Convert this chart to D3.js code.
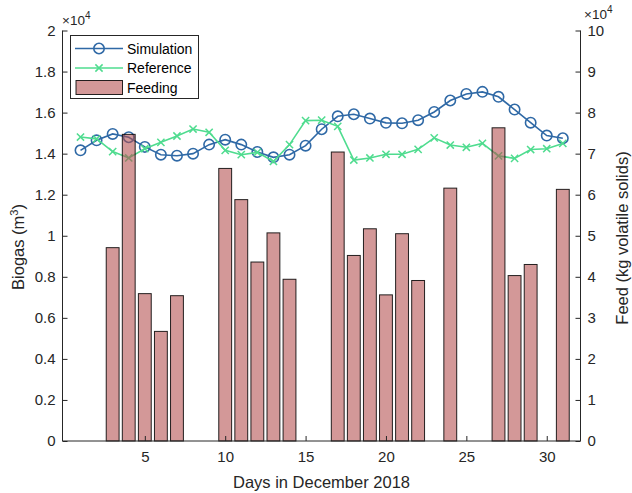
<!DOCTYPE html>
<html><head><meta charset="utf-8">
<script src="https://cdn.jsdelivr.net/npm/d3@7/dist/d3.min.js"></script>
<style>
html,body{margin:0;padding:0;background:#fff;}
svg{display:block;font-family:"Liberation Sans",Arial,Helvetica,sans-serif;}
</style></head>
<body>
<svg id="chart" width="632" height="493"></svg>
<script>
// ---- data ----
const days = d3.range(1, 32);
const simulation = [14160,14650,14960,14800,14330,13950,13900,14000,14440,14680,14440,14080,13820,13950,14390,15190,
  15820,15920,15710,15500,15480,15630,16030,16590,16910,17010,16770,16150,15510,14880,14750];
const reference = [14810,14720,14100,13790,14240,14550,14860,15200,15040,14160,13950,14060,13620,14440,15610,15630,
  15330,13690,13790,13970,13970,14210,14770,14420,14310,14500,13890,13770,14200,14240,14500];
const feedDays = [3,4,5,6,7,10,11,12,13,14,17,18,19,20,21,22,24,27,28,29,31];
const feeding = [47100,74700,35900,26700,35400,66400,58800,43600,50700,39400,70400,45200,51700,35600,50500,39100,61600,76300,40300,43000,61300];
const xTicks = [5,10,15,20,25,30];
const leftTicks = [0,2000,4000,6000,8000,10000,12000,14000,16000,18000,20000];
const rightTicks = [0,10000,20000,30000,40000,50000,60000,70000,80000,90000,100000];
const seriesNames = ["Simulation","Reference","Feeding"];

// ---- layout ----
const svg = d3.select("#chart");
const L = 62.5, R = 580.5, T = 30.5, B = 441;
const x = d3.scaleLinear().domain([-0.12, 32.1]).range([L, R]);
const yL = d3.scaleLinear().domain([0, 20000]).range([B, T]);
const yR = d3.scaleLinear().domain([0, 100000]).range([B, T]);
const axisCol = "#262626";
const blue = "#2f69a6", green = "#4fdc8f";
const tickFont = 15;

// ---- lines (drawn first, bars translucent on top) ----
const gLines = svg.append("g");
function drawSeries(vals, col, marker){
  const line = d3.line().x((d,i)=>x(days[i])).y(d=>yL(d));
  gLines.append("path").attr("d", line(vals)).attr("fill","none").attr("stroke",col).attr("stroke-width",1.6);
  const m = gLines.append("g");
  vals.forEach((v,i)=>{
    const cx = x(days[i]), cy = yL(v);
    if(marker==="o"){
      m.append("circle").attr("cx",cx).attr("cy",cy).attr("r",5.2).attr("fill","none").attr("stroke",col).attr("stroke-width",1.6);
    } else {
      const s = 3.6;
      m.append("path").attr("d",`M${cx-s},${cy-s}L${cx+s},${cy+s}M${cx-s},${cy+s}L${cx+s},${cy-s}`)
        .attr("stroke",col).attr("stroke-width",1.5);
    }
  });
}
drawSeries(simulation, blue, "o");
drawSeries(reference, green, "x");

// ---- bars ----
const bw = x(0.8) - x(0);
svg.append("g").selectAll("rect").data(feeding).join("rect")
  .attr("x",(d,i)=>x(feedDays[i]) - bw/2)
  .attr("y",d=>yR(d))
  .attr("width",bw)
  .attr("height",d=>B - yR(d))
  .attr("fill","rgb(180,78,78)").attr("fill-opacity",0.58)
  .attr("stroke","#000").attr("stroke-opacity",0.85).attr("stroke-width",1);

// ---- axes ----
const gx = svg.append("g").attr("transform",`translate(0,${B})`)
  .call(d3.axisBottom(x).tickValues(xTicks).tickSize(-5).tickPadding(10).tickFormat(d3.format("d")));
const gl = svg.append("g").attr("transform",`translate(${L},0)`)
  .call(d3.axisLeft(yL).tickValues(leftTicks).tickSize(-5).tickPadding(7).tickFormat(v=>String(+(v/1e4).toFixed(1))));
const gr = svg.append("g").attr("transform",`translate(${R},0)`)
  .call(d3.axisRight(yR).tickValues(rightTicks).tickSize(-5).tickPadding(7).tickFormat(v=>String(Math.round(v/1e4))));
[gx,gl,gr].forEach(g=>{
  g.select(".domain").attr("stroke",axisCol).attr("stroke-width",1);
  g.selectAll(".tick line").attr("stroke",axisCol);
  g.selectAll(".tick text").attr("fill",axisCol).style("font-size",tickFont+"px").style("font-family","'Liberation Sans',Arial,sans-serif");
});
gx.select(".domain").attr("d",`M${L},0H${R}`);
gl.select(".domain").attr("d",`M0,${B}V${T}`);
gr.select(".domain").attr("d",`M0,${B}V${T}`);

// ---- exponent labels ----
function expLabel(xp, yp){
  const t = svg.append("text").attr("x",xp).attr("y",yp).attr("fill",axisCol).style("font-size","13.5px");
  t.append("tspan").text("\u00d710");
  t.append("tspan").attr("dy",-6).style("font-size","10px").text("4");
}
expLabel(62, 25);
expLabel(584, 18.5);

// ---- axis titles ----
svg.append("text").attr("x",(L+R)/2).attr("y",488).attr("text-anchor","middle")
  .attr("fill",axisCol).style("font-size","16.5px").text("Days in December 2018");
const yl = svg.append("text").attr("transform","translate(24,247) rotate(-90)").attr("text-anchor","middle")
  .attr("fill",axisCol).style("font-size","16.5px");
yl.append("tspan").text("Biogas (m");
yl.append("tspan").attr("dy",-6).style("font-size","11px").text("3");
yl.append("tspan").attr("dy",6).text(")");
svg.append("text").attr("transform","translate(628,238) rotate(-90)").attr("text-anchor","middle")
  .attr("fill",axisCol).style("font-size","16.5px").text("Feed (kg volatile solids)");

// ---- legend ----
const lg = svg.append("g");
lg.append("rect").attr("x",70.5).attr("y",35.5).attr("width",128).attr("height",63)
  .attr("fill","#fff").attr("stroke",axisCol).attr("stroke-width",1);
const ly = [48.5, 68, 88];
lg.append("line").attr("x1",75).attr("x2",123).attr("y1",ly[0]).attr("y2",ly[0]).attr("stroke",blue).attr("stroke-width",1.6);
lg.append("circle").attr("cx",99).attr("cy",ly[0]).attr("r",5.2).attr("fill","none").attr("stroke",blue).attr("stroke-width",1.6);
lg.append("line").attr("x1",75).attr("x2",123).attr("y1",ly[1]).attr("y2",ly[1]).attr("stroke",green).attr("stroke-width",1.6);
lg.append("path").attr("d",`M${99-3.6},${ly[1]-3.6}L${99+3.6},${ly[1]+3.6}M${99-3.6},${ly[1]+3.6}L${99+3.6},${ly[1]-3.6}`)
  .attr("stroke",green).attr("stroke-width",1.5);
lg.append("rect").attr("x",76).attr("y",80.5).attr("width",46.5).attr("height",14)
  .attr("fill","rgb(180,78,78)").attr("fill-opacity",0.58).attr("stroke","#000").attr("stroke-opacity",0.85);
seriesNames.forEach((n,i)=>{
  lg.append("text").attr("x",127).attr("y",ly[i]+5).attr("fill","#000").style("font-size","14px").text(n);
});
</script>
</body></html>
